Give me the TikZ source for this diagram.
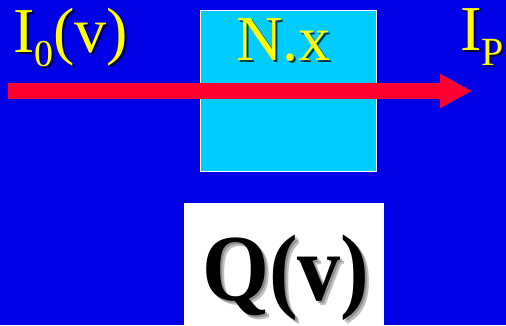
\documentclass[tikz,border=0pt]{standalone}
\usepackage{fontspec}
\setmainfont{Liberation Serif}
\usetikzlibrary{arrows.meta}
\definecolor{bgblue}{RGB}{0,0,230}
\definecolor{cyanbox}{RGB}{0,204,255}
\definecolor{ytext}{RGB}{255,255,0}
\definecolor{rarrow}{RGB}{255,0,51}
\tikzset{
  lbl/.style={inner sep=0pt, anchor=base west, font=\fontsize{64}{64}\selectfont},
  ylbl/.style={lbl, text=ytext},
  yshadow/.style={lbl, text=black, opacity=0.7},
  qlbl/.style={inner sep=0pt, anchor=base, font=\fontsize{86}{86}\bfseries\selectfont},
  qshadow/.style={qlbl, text=black, opacity=0.25},
  beam/.style={rarrow, line width=16pt, -{Triangle[length=32pt,width=32pt]}}
}
\newcommand{\qtext}{\scalebox{1}[1.1]{Q(v)}}
\begin{document}
\begin{tikzpicture}[x=1pt,y=-1pt]
\fill[bgblue] (0,0) rectangle (506,325);
\useasboundingbox (0,0) rectangle (506,325);
\node[draw=white, fill=cyanbox, line width=1pt, minimum width=176pt, minimum height=161pt, anchor=north west, inner sep=0pt] (sample) at (200,10) {};
\node[fill=white, minimum width=200pt, minimum height=122pt, anchor=north west, inner sep=0pt] (qbox) at (184,203) {};
% I_0(v)
\node[yshadow] at (15,54) {I\raisebox{-14pt}{\fontsize{38}{38}\selectfont 0}(v)};
\node[ylbl] (i0) at (13,52) {I\raisebox{-14pt}{\fontsize{38}{38}\selectfont 0}(v)};
% N.x
\node[yshadow] at (238,62) {N.x};
\node[ylbl] (nx) at (236,60) {N.x};
% I_P
\node[yshadow] at (462,52) {I\raisebox{-15pt}{\fontsize{40}{40}\selectfont P}};
\node[ylbl] (ip) at (460,50) {I\raisebox{-15pt}{\fontsize{40}{40}\selectfont P}};
% beam
\coordinate (beamstart) at (8,91);
\coordinate (beamend) at (472,91);
\draw[beam] (beamstart) -- (beamend);
% Q(v)
\node[qshadow] at (290,304) {\qtext};
\node[qshadow] at (288,302) {\qtext};
\node[qlbl] (q) at (286,300) {\qtext};
\end{tikzpicture}
\end{document}
